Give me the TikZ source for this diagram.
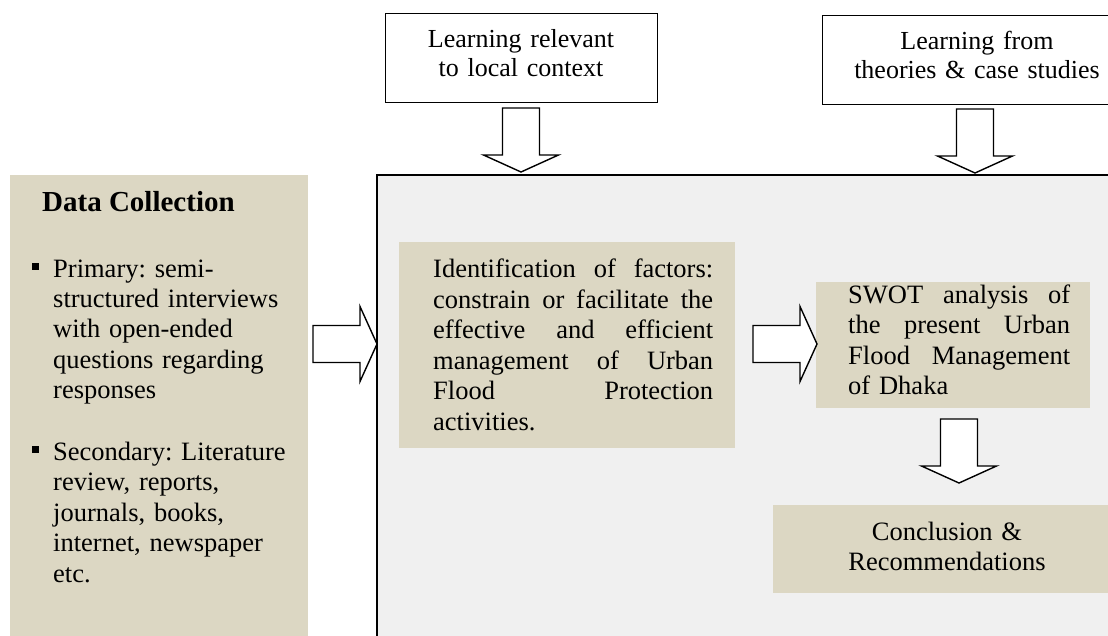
\documentclass[tikz,border=0pt]{standalone}
\usepackage{fontspec}
\setmainfont{Liberation Serif}
\frenchspacing
\definecolor{tanfill}{RGB}{220,215,195}
\definecolor{panelgray}{RGB}{240,240,240}
\newcommand\sqbullet{\llap{\rule[7pt]{7pt}{7pt}\hspace{14pt}}}
\newcommand\fitline[2]{\makebox[#1][s]{\spaceskip=0pt plus 1fil\xspaceskip=0pt plus 1fil\relax #2}}
\tikzset{
  blockarrow/.pic={\draw[fill=white,line width=1.4pt,line join=miter]
    (0,-18.5) -- (47,-18.5) -- (47,-37.5) -- (64,0) -- (47,37.5) -- (47,18.5) -- (0,18.5) -- cycle;},
  learnbox/.style={draw,line width=1.4pt,fill=white,inner sep=0pt,anchor=north west,minimum height=89pt},
  tanbox/.style={fill=tanfill,inner sep=0pt,anchor=north west},
  bodytext/.style={inner sep=0pt,anchor=base west,align=left,font=\fontsize{26.5}{30.5}\selectfont}
}
\begin{document}
\begin{tikzpicture}[x=1pt,y=-1pt]
 \useasboundingbox (0,0) rectangle (1108,636);
 \clip (0,0) rectangle (1108,636);
 \node[draw,line width=1.6pt,fill=panelgray,anchor=north west,minimum width=760pt,minimum height=480pt] (panel) at (376,174) {};
 \node[learnbox,minimum width=272pt] (local) at (385,13) {};
 \node[bodytext,text width=272pt,align=center,anchor=base,font=\fontsize{26}{29}\selectfont] (localtext) at (521,48) {Learning relevant\\to local context};
 \node[learnbox,minimum width=310pt] (theory) at (822,15) {};
 \node[bodytext,text width=300pt,align=center,anchor=base,font=\fontsize{26}{29}\selectfont] (theorytext) at (977,50) {Learning from\\theories \& case studies};
 \node[tanbox,minimum width=298pt,minimum height=470pt] (data) at (10,175) {};
 \node[bodytext,font=\bfseries\fontsize{29}{30}\selectfont] (datahead) at (42,212) {Data Collection};
 \node[bodytext,text width=250pt] (primary) at (53,277) {\sqbullet Primary: semi-\\structured interviews\\with open-ended\\questions regarding\\responses};
 \node[bodytext,text width=250pt] (secondary) at (53,460) {\sqbullet Secondary: Literature\\review, reports,\\journals, books,\\internet, newspaper\\etc.};
 \node[tanbox,minimum width=336pt,minimum height=206pt] (identbox) at (399,242) {};
 \node[bodytext,text width=280pt] (identtext) at (433,278) {\fitline{280pt}{Identification of factors:}\\\fitline{280pt}{constrain or facilitate the}\\\fitline{280pt}{effective and efficient}\\\fitline{280pt}{management of Urban}\\\fitline{280pt}{Flood Protection}\\activities.};
 \node[tanbox,minimum width=274pt,minimum height=126pt] (swotbox) at (816,282) {};
 \node[bodytext,text width=222pt] (swottext) at (848,303) {\fitline{222pt}{SWOT analysis of}\\\fitline{222pt}{the present Urban}\\\fitline{222pt}{Flood Management}\\of Dhaka};
 \node[tanbox,minimum width=348pt,minimum height=88pt] (concl) at (773,505) {};
 \node[bodytext,text width=300pt,align=center,anchor=base] (concltext) at (947,540) {Conclusion \&\\Recommendations};
 \pic[rotate=-90] at (521,108) {blockarrow};
 \pic[rotate=-90] at (975,109) {blockarrow};
 \pic at (313,344) {blockarrow};
 \pic at (753,344) {blockarrow};
 \pic[rotate=-90] at (959,419) {blockarrow};
\end{tikzpicture}
\end{document}
